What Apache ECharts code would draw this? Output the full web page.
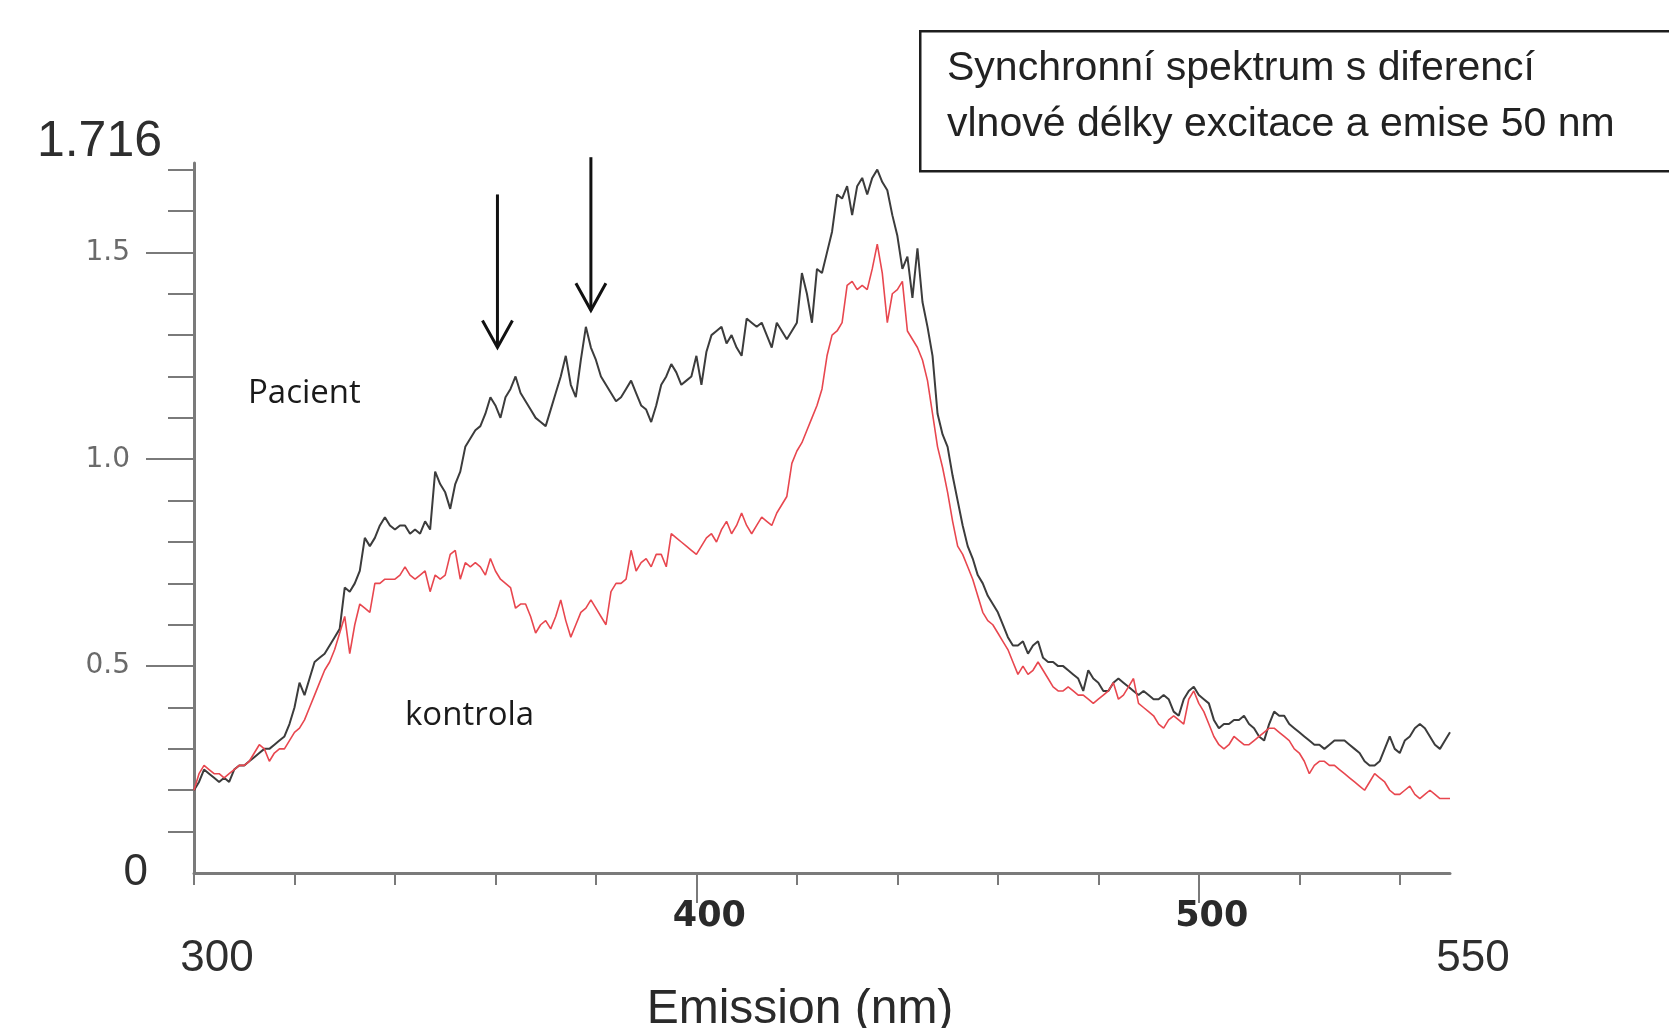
<!DOCTYPE html>
<html>
<head>
<meta charset="utf-8">
<script src="https://cdn.jsdelivr.net/npm/echarts@6/dist/echarts.min.js"></script>
<style>
html,body{margin:0;padding:0;background:#fff;}
#chart{width:1669px;height:1028px;}
</style>
</head>
<body>
<div id="chart"></div>
<script>
// ---- data ----
const wavelengthStart = 300;   // nm
const wavelengthEnd = 550;     // nm
const wavelengthStep = 1;      // nm

// Pacient (black), one value per nm from 300 to 550
const pacient = [
0.20,0.22,0.25,0.24,0.23,0.22,0.23,0.22,0.25,0.26,
0.26,0.27,0.28,0.29,0.30,0.30,0.31,0.32,0.33,0.36,
0.40,0.46,0.43,0.47,0.51,0.52,0.53,0.55,0.57,0.59,
0.69,0.68,0.70,0.73,0.81,0.79,0.81,0.84,0.86,0.84,
0.83,0.84,0.84,0.82,0.83,0.82,0.85,0.83,0.97,0.94,
0.92,0.88,0.94,0.97,1.03,1.05,1.07,1.08,1.11,1.15,
1.13,1.10,1.15,1.17,1.20,1.16,1.14,1.12,1.10,1.09,
1.08,1.12,1.16,1.20,1.25,1.18,1.15,1.24,1.32,1.27,
1.24,1.20,1.18,1.16,1.14,1.15,1.17,1.19,1.16,1.13,
1.12,1.09,1.13,1.18,1.20,1.23,1.21,1.18,1.19,1.20,
1.25,1.18,1.26,1.30,1.31,1.32,1.28,1.30,1.27,1.25,
1.34,1.33,1.32,1.33,1.30,1.27,1.33,1.31,1.29,1.31,
1.33,1.45,1.40,1.33,1.46,1.45,1.50,1.55,1.64,1.63,
1.66,1.59,1.66,1.68,1.64,1.68,1.70,1.67,1.65,1.59,
1.54,1.46,1.49,1.39,1.51,1.38,1.32,1.25,1.11,1.06,
1.03,0.96,0.90,0.84,0.79,0.76,0.72,0.70,0.67,0.65,
0.63,0.60,0.57,0.55,0.55,0.56,0.53,0.55,0.56,0.52,
0.51,0.51,0.50,0.50,0.49,0.48,0.47,0.44,0.49,0.47,
0.46,0.44,0.44,0.46,0.47,0.46,0.45,0.44,0.43,0.44,
0.43,0.42,0.42,0.43,0.42,0.39,0.38,0.42,0.44,0.45,
0.43,0.42,0.41,0.37,0.35,0.36,0.36,0.37,0.37,0.38,
0.36,0.35,0.33,0.32,0.36,0.39,0.38,0.38,0.36,0.35,
0.34,0.33,0.32,0.31,0.31,0.30,0.31,0.32,0.32,0.32,
0.31,0.30,0.29,0.27,0.26,0.26,0.27,0.30,0.33,0.30,
0.29,0.32,0.33,0.35,0.36,0.35,0.33,0.31,0.30,0.32,
0.34
];

// kontrola (red), one value per nm from 300 to 550
const kontrola = [
0.20,0.24,0.26,0.25,0.24,0.24,0.23,0.24,0.25,0.26,
0.26,0.27,0.29,0.31,0.30,0.27,0.29,0.30,0.30,0.32,
0.34,0.35,0.37,0.40,0.43,0.46,0.49,0.51,0.54,0.58,
0.62,0.53,0.60,0.65,0.64,0.63,0.70,0.70,0.71,0.71,
0.71,0.72,0.74,0.72,0.71,0.72,0.73,0.68,0.72,0.71,
0.72,0.77,0.78,0.71,0.75,0.74,0.75,0.74,0.72,0.76,
0.73,0.71,0.70,0.69,0.64,0.65,0.65,0.62,0.58,0.60,
0.61,0.59,0.62,0.66,0.61,0.57,0.60,0.63,0.64,0.66,
0.64,0.62,0.60,0.68,0.70,0.70,0.71,0.78,0.73,0.75,
0.76,0.74,0.77,0.77,0.74,0.82,0.81,0.80,0.79,0.78,
0.77,0.79,0.81,0.82,0.80,0.83,0.85,0.82,0.84,0.87,
0.84,0.82,0.84,0.86,0.85,0.84,0.87,0.89,0.91,0.99,
1.02,1.04,1.07,1.10,1.13,1.17,1.25,1.30,1.31,1.33,
1.42,1.43,1.41,1.42,1.41,1.46,1.52,1.45,1.33,1.40,
1.41,1.43,1.31,1.29,1.27,1.24,1.19,1.11,1.03,0.98,
0.92,0.85,0.79,0.77,0.74,0.71,0.67,0.63,0.61,0.60,
0.58,0.56,0.54,0.51,0.48,0.50,0.48,0.49,0.51,0.49,
0.47,0.45,0.44,0.44,0.45,0.44,0.43,0.43,0.42,0.41,
0.42,0.43,0.44,0.46,0.42,0.43,0.45,0.47,0.41,0.40,
0.39,0.38,0.36,0.35,0.37,0.38,0.37,0.36,0.42,0.44,
0.41,0.39,0.36,0.33,0.31,0.30,0.31,0.33,0.32,0.31,
0.31,0.32,0.33,0.34,0.35,0.35,0.34,0.33,0.32,0.30,
0.29,0.27,0.24,0.26,0.27,0.27,0.26,0.26,0.25,0.24,
0.23,0.22,0.21,0.20,0.22,0.24,0.23,0.22,0.20,0.19,
0.19,0.20,0.21,0.19,0.18,0.19,0.20,0.19,0.18,0.18,
0.18
];

// arrows marking the two patient peaks (nm, top value, tip value)
const arrowX = [360.4, 379.0];
const arrowTop = [1.64, 1.73];
const arrowTip = [1.27, 1.36];

const yMax = 1.716;
const xTickLabels = [300, 400, 500, 550];
const yTickLabels = [0, 0.5, 1.0, 1.5, 1.716];

const titleLines = ['Synchronní spektrum s diferencí', 'vlnové délky excitace a emise 50 nm'];
const xAxisTitle = 'Emission (nm)';
const seriesNames = ['Pacient', 'kontrola'];

// ---- build ----
const wavelengths = [];
for (let w = wavelengthStart; w <= wavelengthEnd; w += wavelengthStep) wavelengths.push(w);
const pacientData = wavelengths.map((w, i) => [w, pacient[i]]);
const kontrolaData = wavelengths.map((w, i) => [w, kontrola[i]]);
const arrowData = arrowX.map((x, i) => [x, arrowTop[i], arrowTip[i]]);

const AX = '#7a7a7a';
const W = 1669, H = 1028;
const gL = 194, gR = 219, gT = 163, gB = 155;
const plotW = W - gL - gR, plotH = H - gT - gB;
const pxPerNm = plotW / (wavelengthEnd - wavelengthStart);
const pxPerUnit = plotH / yMax;
const yPix = v => H - gB - v * pxPerUnit;

const base = {outerBoundsMode: 'none', containLabel: false};
const hiddenX = (g, min, max) => ({gridIndex: g, type: 'value', min, max, show: false});
const hiddenY = (g, min, max) => ({gridIndex: g, type: 'value', min, max, show: false});

const chart = echarts.init(document.getElementById('chart'), null, {renderer: 'canvas'});
chart.setOption({
  animation: false,
  backgroundColor: '#ffffff',
  grid: [
    Object.assign({left: gL, right: gR, top: gT, bottom: gB}, base),
    Object.assign({left: gL, width: 240 * pxPerNm, top: gT, bottom: gB}, base),
    Object.assign({left: gL + 100 * pxPerNm, width: 100 * pxPerNm, top: gT, bottom: gB}, base),
    Object.assign({left: gL, right: gR, top: yPix(1.7), bottom: H - yPix(0.1)}, base),
    Object.assign({left: gL, right: gR, top: yPix(1.5), bottom: H - yPix(0.5)}, base)
  ],
  xAxis: [
    {
      gridIndex: 0, type: 'value', min: wavelengthStart, max: wavelengthEnd, interval: 50,
      name: xAxisTitle, nameLocation: 'middle', nameGap: 98,
      nameTextStyle: {fontFamily: 'Liberation Sans', fontSize: 48, color: '#2a2a2a', padding: [0, 44, 0, 0]},
      axisLine: {show: true, onZero: false, lineStyle: {color: AX, width: 3}},
      axisTick: {show: false},
      splitLine: {show: false},
      axisLabel: {
        show: true, interval: 0, margin: 26, showMinLabel: true, showMaxLabel: true,
        formatter: v => {
          if (!xTickLabels.includes(v)) return '';
          if (v === 300 || v === 550) return '{big|' + v + '}';
          return '{mid|' + v + '}';
        },
        rich: {
          big: {fontFamily: 'Liberation Sans', fontSize: 44, color: '#2e2e2e', padding: [38, 0, 0, 46]},
          mid: {fontFamily: 'DejaVu Sans', fontWeight: 'bold', fontSize: 35, color: '#2a2a2a', padding: [0, 0, 0, 26]}
        }
      }
    },
    {
      gridIndex: 1, type: 'value', min: 300, max: 540, interval: 20,
      axisLine: {show: false}, axisLabel: {show: false}, splitLine: {show: false},
      axisTick: {show: true, length: 12, lineStyle: {color: AX, width: 2}}
    },
    {
      gridIndex: 2, type: 'value', min: 400, max: 500, interval: 100,
      axisLine: {show: false}, axisLabel: {show: false}, splitLine: {show: false},
      axisTick: {show: true, length: 30, lineStyle: {color: AX, width: 2}}
    },
    hiddenX(3, 0, 1),
    hiddenX(4, 0, 1)
  ],
  yAxis: [
    {
      gridIndex: 0, type: 'value', min: 0, max: yMax, interval: 0.5,
      axisLine: {show: true, onZero: false, lineStyle: {color: AX, width: 3}},
      axisTick: {show: false},
      splitLine: {show: false},
      axisLabel: {
        show: true, margin: 32, showMinLabel: true, showMaxLabel: true,
        formatter: v => {
          if (Math.abs(v - yMax) < 1e-6) return '{top|' + yMax + '}';
          if (v === 0) return '{big|0}';
          return '{small|' + v.toFixed(1) + '}';
        },
        rich: {
          top: {fontFamily: 'Liberation Sans', fontSize: 50, color: '#2e2e2e', padding: [0, 0, 42, 0]},
          big: {fontFamily: 'Liberation Sans', fontSize: 44, color: '#2e2e2e', padding: [0, 14, 0, 0]},
          small: {fontFamily: 'DejaVu Sans', fontSize: 28, color: '#6a6a6a', padding: [0, 32, 0, 0]}
        }
      }
    },
    hiddenY(1, 0, yMax),
    hiddenY(2, 0, yMax),
    {
      gridIndex: 3, type: 'value', min: 0.1, max: 1.7, interval: 0.1,
      axisLine: {show: false}, axisLabel: {show: false}, splitLine: {show: false},
      axisTick: {show: true, length: 26, lineStyle: {color: AX, width: 2}}
    },
    {
      gridIndex: 4, type: 'value', min: 0.5, max: 1.5, interval: 0.5,
      axisLine: {show: false}, axisLabel: {show: false}, splitLine: {show: false},
      axisTick: {show: true, length: 48, lineStyle: {color: AX, width: 2}}
    }
  ],
  series: [
    {
      name: seriesNames[0], type: 'line', xAxisIndex: 0, yAxisIndex: 0,
      data: pacientData, showSymbol: false, symbol: 'none',
      lineStyle: {color: '#3c3c3c', width: 2}, z: 3
    },
    {
      name: seriesNames[1], type: 'line', xAxisIndex: 0, yAxisIndex: 0,
      data: kontrolaData, showSymbol: false, symbol: 'none',
      lineStyle: {color: '#e8474f', width: 1.6}, z: 4
    },
    {
      type: 'custom', xAxisIndex: 0, yAxisIndex: 0, clip: false, z: 5,
      data: arrowData,
      encode: {x: 0, y: [1, 2]},
      renderItem: (params, api) => {
        const top = api.coord([api.value(0), api.value(1)]);
        const tip = api.coord([api.value(0), api.value(2)]);
        const st = {stroke: '#111', lineWidth: 3, fill: null};
        return {
          type: 'group',
          children: [
            {type: 'line', shape: {x1: top[0], y1: top[1], x2: tip[0], y2: tip[1]}, style: st},
            {type: 'polyline', shape: {points: [[tip[0] - 15, tip[1] - 27], [tip[0], tip[1]], [tip[0] + 15, tip[1] - 27]]}, style: st}
          ]
        };
      }
    }
  ],
  graphic: [
    {type: 'rect', left: 919, top: 30, shape: {width: 820, height: 140},
     style: {fill: '#fff', stroke: '#1e1e1e', lineWidth: 2.5}, z: 10},
    {type: 'text', x: 947, y: 69, z: 11,
     style: {text: titleLines[0], font: '41px "Liberation Sans"', fill: '#222', verticalAlign: 'middle'}},
    {type: 'text', x: 947, y: 125, z: 11,
     style: {text: titleLines[1], font: '41px "Liberation Sans"', fill: '#222', verticalAlign: 'middle'}},
    {type: 'text', x: 248, y: 394, z: 11,
     style: {text: seriesNames[0], font: '33px "Open Sans"', fill: '#1a1a1a', verticalAlign: 'middle'}},
    {type: 'text', x: 405, y: 716, z: 11,
     style: {text: seriesNames[1], font: '33px "Open Sans"', fill: '#1a1a1a', verticalAlign: 'middle'}}
  ]
});
</script>
</body>
</html>
